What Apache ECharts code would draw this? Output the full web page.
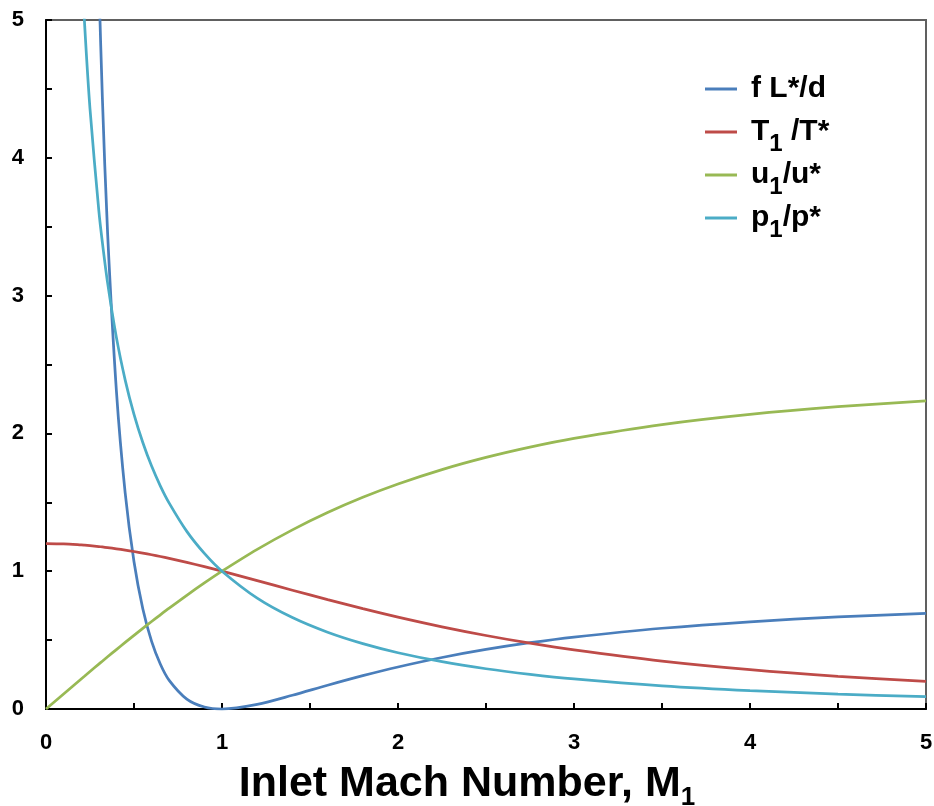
<!DOCTYPE html>
<html>
<head>
<meta charset="utf-8">
<script src="https://cdn.jsdelivr.net/npm/echarts@6/dist/echarts.min.js"></script>
<style>
    html, body {margin: 0; padding: 0; background: #fff;}
    #main {width: 934px; height: 806px;}
</style>
</head>
<body>
<div id="main"></div>
<script>
// values (Fanno flow, gamma 1.4)
var machNumbers = [0, 0.1, 0.2, 0.22, 0.25, 0.3, 0.32, 0.35, 0.4, 0.45, 0.5, 0.55, 0.6, 0.65, 0.7, 0.8, 0.9, 1.0,
    1.2, 1.4, 1.6, 1.8, 2.0, 2.25, 2.5, 2.75, 3.0, 3.5, 4.0, 4.5, 5.0];
var frictionLength = [null, null, null, null, null, 5.299, 4.447, 3.453, 2.309, 1.566, 1.069, 0.728, 0.491, 0.325, 0.208, 0.072, 0.0145, 0,
    0.0336, 0.0997, 0.1724, 0.2419, 0.305, 0.3738, 0.432, 0.481, 0.522, 0.586, 0.633, 0.668, 0.694];
var tempRatio = [1.2, 1.1976, 1.1905, 1.1885, 1.1852, 1.1788, 1.1759, 1.1713, 1.1628, 1.1533, 1.1429, 1.1315, 1.1194, 1.1065, 1.0929, 1.0638, 1.0327, 1.0,
    0.9317, 0.8621, 0.7937, 0.7282, 0.6667, 0.5963, 0.5333, 0.4776, 0.4286, 0.3478, 0.2857, 0.2376, 0.2];
var velRatio = [0, 0.1094, 0.2182, 0.2398, 0.2722, 0.3257, 0.347, 0.3788, 0.4313, 0.4833, 0.5345, 0.5851, 0.6348, 0.6837, 0.7318, 0.8251, 0.9146, 1.0,
    1.1583, 1.2999, 1.4254, 1.536, 1.633, 1.7374, 1.8257, 1.9005, 1.964, 2.0642, 2.1381, 2.1936, 2.2361];
var pressRatio = [null, null, 5.455, 4.955, 4.355, 3.619, 3.389, 3.092, 2.696, 2.387, 2.138, 1.934, 1.763, 1.618, 1.494, 1.289, 1.129, 1.0,
    0.8044, 0.6632, 0.5568, 0.4741, 0.4083, 0.3432, 0.2921, 0.2513, 0.2182, 0.1685, 0.1336, 0.1083, 0.0894];

var seriesNames = ['f L*/d', 'T1 /T*', 'u1/u*', 'p1/p*'];
var legendRich = {
    'f L*/d': '{a|f L*/d}{s| }',
    'T1 /T*': '{a|T}{s|1}{a| /T*}',
    'u1/u*': '{a|u}{s|1}{a|/u*}',
    'p1/p*': '{a|p}{s|1}{a|/p*}'
};
var colors = ['#4a7ebb', '#be4b48', '#98b954', '#4bacc6'];
var font = 'Liberation Sans, Arial, sans-serif';

function pairs(ys) {
    var out = [];
    for (var i = 0; i < machNumbers.length; i++) {
        out.push([machNumbers[i], ys[i]]);
    }
    return out;
}

function lineSeries(name, ys, color) {
    return {
        name: name,
        type: 'line',
        data: pairs(ys),
        smooth: 0.3,
        symbol: 'none',
        clip: true,
        lineStyle: {color: color, width: 2.75},
        itemStyle: {color: color}
    };
}

var chart = echarts.init(document.getElementById('main'));
var option = {
    animation: false,
    backgroundColor: '#fff',
    grid: {
        left: 46, right: 8, top: 20, bottom: 97,
        outerBoundsMode: 'none',
        show: true, borderColor: '#606060', borderWidth: 2, backgroundColor: 'transparent'
    },
    legend: {
        data: seriesNames,
        left: 705,
        top: 74,
        orient: 'vertical',
        padding: 0,
        itemGap: 4,
        icon: 'rect',
        itemWidth: 32,
        itemHeight: 3,
        formatter: function (name) { return legendRich[name]; },
        textStyle: {
            padding: [0, 0, 0, 9],
            rich: {
                a: {fontFamily: font, fontWeight: 'bold', fontSize: 30, color: '#000', lineHeight: 48, verticalAlign: 'middle'},
                s: {fontFamily: font, fontWeight: 'bold', fontSize: 24, color: '#000', lineHeight: 48, verticalAlign: 'bottom'}
            }
        }
    },
    xAxis: {
        type: 'value',
        min: 0, max: 5, interval: 0.5,
        name: '{a|Inlet Mach Number, M}{s|1}',
        nameLocation: 'middle',
        nameGap: 49,
        nameTextStyle: {
            padding: [0, 38, 0, 0],
            rich: {
                a: {fontFamily: font, fontWeight: 'bold', fontSize: 43, color: '#000', lineHeight: 53, verticalAlign: 'middle'},
                s: {fontFamily: font, fontWeight: 'bold', fontSize: 26, color: '#000', lineHeight: 53, verticalAlign: 'bottom'}
            }
        },
        axisLine: {lineStyle: {color: '#000', width: 2}},
        axisTick: {inside: true, length: 6, lineStyle: {color: '#000', width: 2}},
        splitLine: {show: false},
        axisLabel: {
            margin: 23,
            fontFamily: font, fontWeight: 'bold', fontSize: 22, color: '#000',
            formatter: function (v) { return v % 1 === 0 ? String(v) : ''; }
        }
    },
    yAxis: {
        type: 'value',
        min: 0, max: 5, interval: 0.5,
        axisLine: {show: true, lineStyle: {color: '#000', width: 2}},
        axisTick: {show: true, inside: true, length: 6, lineStyle: {color: '#000', width: 2}},
        splitLine: {show: false},
        axisLabel: {
            margin: 22,
            fontFamily: font, fontWeight: 'bold', fontSize: 22, color: '#000',
            formatter: function (v) { return v % 1 === 0 ? String(v) : ''; }
        }
    },
    series: [
        lineSeries(seriesNames[0], frictionLength, colors[0]),
        lineSeries(seriesNames[1], tempRatio, colors[1]),
        lineSeries(seriesNames[2], velRatio, colors[2]),
        lineSeries(seriesNames[3], pressRatio, colors[3])
    ]
};
chart.setOption(option);
</script>
</body>
</html>
